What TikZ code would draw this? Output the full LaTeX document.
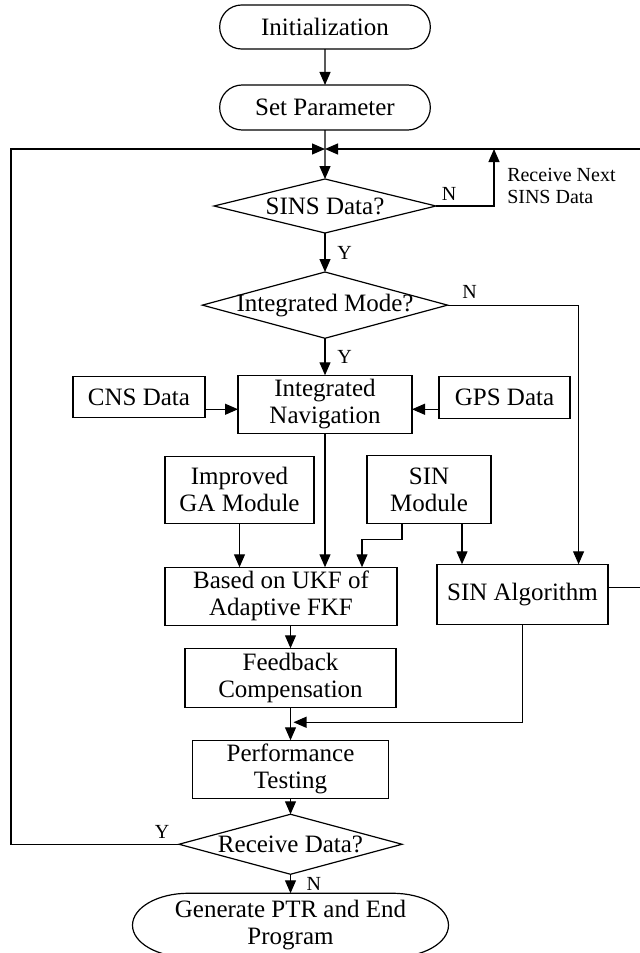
\documentclass[tikz,border=0pt]{standalone}
\usepackage{fontspec}
\setmainfont{Liberation Serif}
\usetikzlibrary{arrows.meta,positioning,shapes.geometric,shapes.misc}
\newcommand\boxfont{\fontsize{12.5}{13.5}\selectfont}
\newcommand\lblfont{\fontsize{10}{11}\selectfont}

\begin{document}
\begin{tikzpicture}[
  x=0.5pt, y=-0.5pt,
  line width=0.6pt,
  term/.style={rounded rectangle, draw, align=center, outer sep=0pt, minimum width=112pt, minimum height=22pt, font=\boxfont},
  proc/.style={rectangle, draw, align=center, inner sep=2pt, outer sep=0pt, font=\boxfont},
  dec/.style={diamond, draw, aspect=3.7, inner xsep=-4pt, inner ysep=0pt, outer sep=0pt, font=\boxfont},
  lbl/.style={font=\lblfont},
  arrow/.style={-{Triangle[length=6.5pt,width=5.5pt]}}
]
\useasboundingbox (0,0) rectangle (639,953);

\node[term] (init) at (325,27) {Initialization};
\node[term, below=18pt of init, minimum height=22.5pt] (setp) {Set Parameter};
\coordinate[below=9.5pt of setp] (j);
\node[dec, below=24.5pt of setp, minimum width=111pt, minimum height=27pt] (sins) {SINS Data?};
\node[dec, below=19.5pt of sins, minimum width=122.5pt, minimum height=33pt] (mode) {Integrated Mode?};
\node[proc, below=18.5pt of mode, minimum width=87pt, minimum height=29pt] (nav) {Integrated\\Navigation};
\node[proc, left=16.5pt of nav, yshift=3.5pt, minimum width=66pt, minimum height=20.5pt] (cns) {CNS Data};
\node[proc, right=13.5pt of nav, yshift=3.5pt, minimum width=65.5pt, minimum height=21pt] (gps) {GPS Data};
\node[proc, below=11.5pt of nav, xshift=-42.75pt, minimum width=74.5pt, minimum height=33.5pt] (ga) {Improved\\GA Module};
\node[proc, right=26.5pt of ga, minimum width=62pt, minimum height=34pt] (sinm) {SIN\\Module};
\node[proc, below=22pt of ga.south west, anchor=north west, minimum width=116pt, minimum height=29pt] (ukf) {Based on UKF of\\Adaptive FKF};
\node[proc, right=20pt of ukf, yshift=1pt, minimum width=85.5pt, minimum height=30pt] (alg) {SIN Algorithm};
\node[proc, below=11.5pt of ukf, xshift=4.75pt, minimum width=105.5pt, minimum height=29.5pt] (fb) {Feedback\\Compensation};
\node[proc, below=16.5pt of fb, minimum width=98pt, minimum height=28pt] (perf) {Performance\\Testing};
\node[dec, below=8pt of perf, minimum width=111.5pt, minimum height=30pt] (recv) {Receive Data?};
\node[proc, draw=none, below=9.5pt of recv, minimum width=158pt, minimum height=32pt] (endp) {Generate PTR and End\\Program};
\draw ([xshift=28pt]endp.north west) -- ([xshift=-28pt]endp.north east)
  arc[start angle=90, end angle=-90, x radius=28pt, y radius=16pt]
  -- ([xshift=28pt]endp.south west)
  arc[start angle=270, end angle=90, x radius=28pt, y radius=16pt] -- cycle;

% main column
\draw[arrow] (init) -- (setp);
\draw[arrow] (setp) -- (sins);
\draw[arrow] (sins) -- node[lbl, right=2.5pt] (y1) {Y} (mode);
\draw[arrow] (mode) -- node[lbl, right=2.5pt] (y2) {Y} (nav);
\draw[arrow] ([yshift=-6pt]cns.east) -- ([yshift=-6pt]cns.east -| nav.west);
\draw[arrow] ([yshift=-6pt]gps.west) -- ([yshift=-6pt]gps.west -| nav.east);
\draw[arrow] (nav.south) -- (nav.south |- ukf.north);
\draw[arrow] (ga.south) -- (ga.south |- ukf.north);
\draw[arrow] ([xshift=-13.5pt]sinm.south) -- ++(0,-8pt) -| ([xshift=40.5pt]ukf.north);
\draw[arrow] ([xshift=16.5pt]sinm.south) -- ([xshift=16.5pt]sinm.south |- alg.north);
\draw[arrow] (mode.east) -- ++(65.5pt,0) coordinate (nk2) -- (nk2 |- alg.north);
\node[lbl] (n2) at ([xshift=11pt,yshift=6.5pt]mode.east) {N};
\draw[arrow] (ukf.south -| fb.north) -- (fb.north);
\draw[arrow] (fb) -- (perf);
\coordinate[below=7.5pt of fb] (mj);
\draw[arrow] (alg.south) |- ([xshift=1.5pt]mj);
\draw[arrow] (perf) -- (recv);
\draw[arrow] (recv) -- node[lbl, right=4.4pt] (n4) {N} (endp);

% loops back to the top
\draw[arrow] (sins.east) -- ++(29pt,0) coordinate (nk1) -- (nk1 |- j);
\node[lbl] (n1) at ([xshift=6.5pt,yshift=6pt]sins.east) {N};
\node[lbl, align=left, anchor=west] (rn) at ([xshift=3pt,yshift=10pt]nk1) {Receive Next\\SINS Data};
\draw[arrow] ([yshift=3.5pt]alg.east) -- ++(16.5pt,0) coordinate (rk) -- (rk |- j) -- (j);
\draw[arrow] (recv.west) -- ++(-84pt,0) coordinate (lk) -- (lk |- j) -- (j);
\node[lbl] (y3) at ([xshift=-8.5pt,yshift=6pt]recv.west) {Y};
\end{tikzpicture}
\end{document}
